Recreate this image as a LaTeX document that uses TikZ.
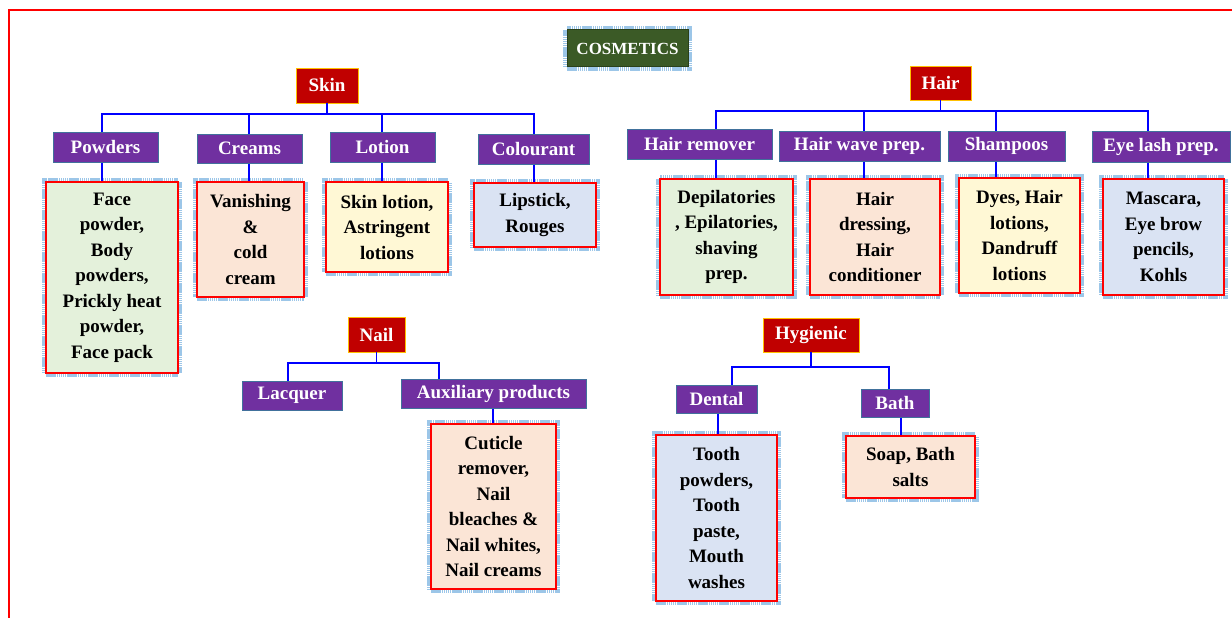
\documentclass[tikz,border=0pt]{standalone}
\usepackage{fontspec}
\setmainfont{Liberation Serif}
\definecolor{hdrred}{HTML}{C00000}
\definecolor{hdrborder}{HTML}{FFC000}
\definecolor{catpurple}{HTML}{7030A0}
\definecolor{catborder}{HTML}{41719C}
\definecolor{cosgreen}{HTML}{3B5A26}
\definecolor{cosborder}{HTML}{2A4019}
\definecolor{connblue}{HTML}{0000FF}
\definecolor{fgreen}{HTML}{E4F1DB}
\definecolor{fpeach}{HTML}{FBE5D6}
\definecolor{fyellow}{HTML}{FFF8D5}
\definecolor{fblue}{HTML}{DAE3F3}
\definecolor{halo}{HTML}{9CC6E8}
\newcommand\cfont{\fontsize{19}{25.5}\selectfont\bfseries}
\newcommand\cosfont{\fontsize{17}{19}\selectfont\bfseries}
\tikzset{
  sz/.style 2 args={minimum width=#1pt, minimum height=#2pt},
  hdr/.style={fill=hdrred, draw=hdrborder, line width=0.8pt, text=white, font=\cfont, inner sep=0pt},
  cat/.style={fill=catpurple, draw=catborder, line width=1pt, text=white, font=\cfont, inner sep=0pt},
  halobox/.style={preaction={draw=halo, line width=8pt, dash pattern=on 1.5pt off 0.6pt}},
  cont/.style={halobox, draw=red, line width=1.4pt, align=center, font=\cfont, text=black, inner sep=0pt},
  cosbox/.style={halobox, fill=cosgreen, draw=cosborder, line width=1pt, text=white, font=\cosfont, inner sep=0pt},
  conn/.style={draw=connblue, line width=1.5pt},
}
\begin{document}
\begin{tikzpicture}[x=1pt,y=-1pt]
\useasboundingbox (0,0) rectangle (1232,618);
\draw[red, line width=2pt] (9,618) -- (9,10) -- (1232,10);

% title
\node[cosbox, sz={121}{37}] (cos) at (627.5,48.5) {COSMETICS};

% headers
\node[hdr, sz={62}{35}] (skin) at (327,85.5) {Skin};
\node[hdr, sz={61}{34}] (hair) at (940.5,83) {Hair};
\node[hdr, sz={57}{35}] (nail) at (376.5,334.5) {Nail};
\node[hdr, sz={96}{34}] (hyg) at (811,335) {Hygienic};

% categories
\node[cat, sz={105}{30}] (pow) at (105.5,147) {Powders};
\node[cat, sz={105}{29}] (cre) at (249.5,148.5) {Creams};
\node[cat, sz={105}{30}] (lot) at (382.5,147) {Lotion};
\node[cat, sz={111}{30}] (col) at (533.5,149) {Colourant};
\node[cat, sz={145}{30}] (hrem) at (699.5,144) {Hair remover};
\node[cat, sz={161}{30}] (hwave) at (859.5,146) {Hair wave prep.};
\node[cat, sz={117}{30}] (sham) at (1006.5,146) {Shampoos};
\node[cat, sz={138}{31}] (eye) at (1161,146.5) {Eye lash prep.};
\node[cat, sz={100}{29}] (lac) at (292,395.5) {Lacquer};
\node[cat, sz={185}{29}] (aux) at (493.5,393.5) {Auxiliary products};
\node[cat, sz={81}{28}] (den) at (716.5,399) {Dental};
\node[cat, sz={68}{28}] (bath) at (895,403) {Bath};

% contents
\node[cont, fill=fgreen, sz={132}{191}] (powc) at (112,277.5) {Face\\powder,\\Body\\powders,\\Prickly heat\\powder,\\Face pack};
\node[cont, fill=fpeach, sz={107}{115}] (crec) at (250.5,239.5) {Vanishing\\\&\\cold\\cream};
\node[cont, fill=fyellow, sz={122}{90}] (lotc) at (387,227) {Skin lotion,\\Astringent\\lotions};
\node[cont, fill=fblue, sz={122}{64}] (colc) at (535,215) {Lipstick,\\Rouges};
\node[cont, fill=fgreen, sz={133}{116}] (hremc) at (726.5,237) {Depilatories\\, Epilatories,\\shaving\\prep.};
\node[cont, fill=fpeach, sz={130}{116}] (hwavec) at (875,237) {Hair\\dressing,\\Hair\\conditioner};
\node[cont, fill=fyellow, sz={121}{115}] (shamc) at (1019.5,235.5) {Dyes, Hair\\lotions,\\Dandruff\\lotions};
\node[cont, fill=fblue, sz={121}{116}] (eyec) at (1163.5,237) {Mascara,\\Eye brow\\pencils,\\Kohls};
\node[cont, fill=fpeach, sz={125}{165}] (auxc) at (493.5,506.5) {Cuticle\\remover,\\Nail\\bleaches \&\\Nail whites,\\Nail creams};
\node[cont, fill=fblue, sz={121}{166}] (denc) at (716.5,518) {Tooth\\powders,\\Tooth\\paste,\\Mouth\\washes};
\node[cont, fill=fpeach, sz={129}{62}] (bathc) at (910.5,467) {Soap, Bath\\salts};

% bar coordinates
\coordinate (skinbar) at (327,114);
\coordinate (hairbar) at (940.5,111);
\coordinate (nailbar) at (376.5,363);
\coordinate (hygbar) at (811,367);

% skin tree
\draw[conn] (skin.south) -- (skinbar);
\draw[conn] ([xshift=-3.5pt]pow.north) |- (skinbar);
\draw[conn] ([xshift=-0.5pt]cre.north) |- (skinbar);
\draw[conn] ([xshift=-0.5pt]lot.north) |- (skinbar);
\draw[conn] ([xshift=0.5pt]col.north) |- (skinbar);
\draw[conn] ([xshift=-3.5pt]pow.south) -- ([xshift=-3.5pt]pow.south |- powc.north);
\draw[conn] ([xshift=-0.5pt]cre.south) -- ([xshift=-0.5pt]cre.south |- crec.north);
\draw[conn] ([xshift=-0.5pt]lot.south) -- ([xshift=-0.5pt]lot.south |- lotc.north);
\draw[conn] ([xshift=0.5pt]col.south) -- ([xshift=0.5pt]col.south |- colc.north);

% hair tree
\draw[conn] (hair.south) -- (hairbar);
\draw[conn] ([xshift=16.5pt]hrem.north) |- (hairbar);
\draw[conn] ([xshift=4.5pt]hwave.north) |- (hairbar);
\draw[conn] ([xshift=-10.5pt]sham.north) |- (hairbar);
\draw[conn] ([xshift=-13pt]eye.north) |- (hairbar);
\draw[conn] ([xshift=16.5pt]hrem.south) -- ([xshift=16.5pt]hrem.south |- hremc.north);
\draw[conn] ([xshift=4.5pt]hwave.south) -- ([xshift=4.5pt]hwave.south |- hwavec.north);
\draw[conn] ([xshift=-10.5pt]sham.south) -- ([xshift=-10.5pt]sham.south |- shamc.north);
\draw[conn] ([xshift=-13pt]eye.south) -- ([xshift=-13pt]eye.south |- eyec.north);

% nail tree
\draw[conn] (nail.south) -- (nailbar);
\draw[conn] ([xshift=-4pt]lac.north) |- (nailbar);
\draw[conn] ([xshift=-54.5pt]aux.north) |- (nailbar);
\draw[conn] ([xshift=-0.5pt]aux.south) -- ([xshift=-0.5pt]aux.south |- auxc.north);

% hygienic tree
\draw[conn] (hyg.south) -- (hygbar);
\draw[conn] ([xshift=15.5pt]den.north) |- (hygbar);
\draw[conn] ([xshift=-6pt]bath.north) |- (hygbar);
\draw[conn] ([xshift=1.5pt]den.south) -- ([xshift=1.5pt]den.south |- denc.north);
\draw[conn] ([xshift=6pt]bath.south) -- ([xshift=6pt]bath.south |- bathc.north);
\end{tikzpicture}
\end{document}
